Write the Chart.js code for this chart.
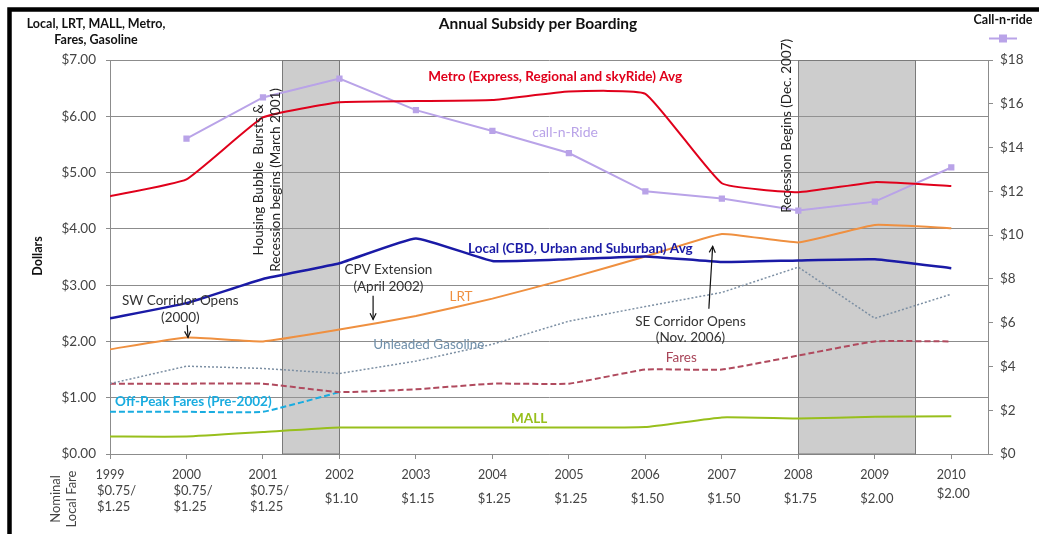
<!DOCTYPE html>
<html>
<head>
<meta charset="utf-8">
<script src="https://cdn.jsdelivr.net/npm/chart.js@4.4.0/dist/chart.umd.min.js"></script>
<style>
  html, body { margin: 0; padding: 0; background: #fff; }
  #wrap { width: 1039px; height: 534px; position: relative; }
</style>
</head>
<body>
<div id="wrap"><canvas id="c" width="1039" height="534"></canvas></div>
<script>
// Annual subsidy per boarding, 1999-2010 (dollars)
const years     = [1999, 2000, 2001, 2002, 2003, 2004, 2005, 2006, 2007, 2008, 2009, 2010];
const metro     = [4.58, 4.88, 5.98, 6.25, 6.27, 6.29, 6.44, 6.40, 4.81, 4.65, 4.83, 4.76];
const local     = [2.41, 2.68, 3.11, 3.39, 3.83, 3.43, 3.46, 3.51, 3.41, 3.44, 3.46, 3.30];
const lrt       = [1.86, 2.07, 2.00, 2.21, 2.45, 2.76, 3.12, 3.51, 3.91, 3.76, 4.07, 4.01];
const gasoline  = [1.25, 1.56, 1.52, 1.43, 1.65, 1.95, 2.36, 2.62, 2.87, 3.32, 2.41, 2.84];
const fares     = [1.25, 1.25, 1.25, 1.10, 1.15, 1.25, 1.25, 1.50, 1.50, 1.75, 2.00, 2.00];
const offPeak   = [0.75, 0.75, 0.75, 1.10, null, null, null, null, null, null, null, null];
const mall      = [0.31, 0.31, 0.39, 0.47, 0.47, 0.47, 0.47, 0.48, 0.65, 0.63, 0.66, 0.67];
// Call-n-Ride runs on the right-hand axis
const callNRide = [null, 14.41, 16.29, 17.15, 15.71, 14.76, 13.75, 12.00, 11.67, 11.12, 11.53, 13.09];

// Nominal local fare under each year
const fareLabels = [
  ['$0.75/', '$1.25'], ['$0.75/', '$1.25'], ['$0.75/', '$1.25'],
  ['$1.10'], ['$1.15'], ['$1.25'], ['$1.25'], ['$1.50'], ['$1.50'], ['$1.75'], ['$2.00'], ['$2.00']
];

// Recession periods shaded behind the lines (fractional years)
const recessions = [[2001.25, 2002.0], [2008.0, 2009.53]];

const FONT = 'Lato, "Open Sans", sans-serif';
const AXIS_GREY = '#8c8c8c';
const TEXT_GREY = '#444444';

Chart.defaults.font.family = FONT;

const pts = arr => years.map((yr, i) => ({ x: yr, y: arr[i] }));

function line(label, data, color, opts = {}) {
  return Object.assign({
    label, data: pts(data), borderColor: color, backgroundColor: color,
    borderWidth: 2, pointRadius: 0, tension: 0.12, yAxisID: 'y', spanGaps: false
  }, opts);
}

// Text annotations placed in data coordinates (year, left-axis dollars)
const notes = [
  { lines: ['Metro (Express, Regional and skyRide) Avg'], x: 2004.82, y: 6.70, color: '#e0001b', bold: true },
  { lines: ['call-n-Ride'], x: 2004.95, y: 5.72, color: '#b9a3e8', bold: false, size: 14 },
  { lines: ['Local (CBD, Urban and Suburban) Avg'], x: 2005.15, y: 3.64, color: '#1a1aa6', bold: true },
  { lines: ['LRT'], x: 2003.59, y: 2.80, color: '#ef9040', bold: false },
  { lines: ['Unleaded Gasoline'], x: 2003.17, y: 1.95, color: '#6f8faa', bold: false },
  { lines: ['Fares'], x: 2006.47, y: 1.72, color: '#a84458', bold: false },
  { lines: ['Off-Peak Fares (Pre-2002)'], x: 2000.09, y: 0.93, color: '#19ace0', bold: true },
  { lines: ['MALL'], x: 2004.48, y: 0.63, color: '#98bf1c', bold: true },
  { lines: ['SW Corridor Opens', '(2000)'], x: 1999.92, y: 2.57, color: '#333333', bold: false },
  { lines: ['CPV Extension', '(April 2002)'], x: 2002.64, y: 3.13, color: '#333333', bold: false },
  { lines: ['SE Corridor Opens', '(Nov. 2006)'], x: 2006.59, y: 2.21, color: '#333333', bold: false },
  { lines: ['Housing Bubble  Bursts &', 'Recession begins (March 2001)'], x: 2001.06, y: 4.87, color: '#222222', bold: false, rotate: true },
  { lines: ['Recession Begins (Dec. 2007)'], x: 2007.85, y: 5.83, color: '#222222', bold: false, rotate: true }
];

const arrows = [
  { from: [2000.01, 2.29], to: [2000.02, lrt[1]] },
  { from: [2002.44, 2.81], to: [2002.44, 2.39] },
  { from: [2006.83, 2.58], to: [2006.88, 3.69] }
];

function drawText(ctx, lines, cx, cy, o) {
  const size = o.size || 13.5;
  const lh = size * 1.25;
  ctx.save();
  ctx.font = (o.bold ? 'bold ' : '') + size + 'px ' + FONT;
  ctx.fillStyle = o.color;
  ctx.textAlign = o.align || 'center';
  ctx.textBaseline = 'middle';
  ctx.translate(cx, cy);
  if (o.rotate) ctx.rotate(-Math.PI / 2);
  const n = lines.length;
  lines.forEach((t, i) => {
    const off = (i - (n - 1) / 2) * lh;
    ctx.fillText(t, 0, off);
  });
  ctx.restore();
}

function drawArrow(ctx, x1, y1, x2, y2) {
  ctx.save();
  ctx.strokeStyle = '#111';
  ctx.lineWidth = 1.2;
  ctx.beginPath();
  ctx.moveTo(x1, y1);
  ctx.lineTo(x2, y2);
  ctx.stroke();
  const a = Math.atan2(y2 - y1, x2 - x1);
  const L = 7, w = 0.45;
  ctx.beginPath();
  ctx.moveTo(x2 - L * Math.cos(a - w), y2 - L * Math.sin(a - w));
  ctx.lineTo(x2, y2);
  ctx.lineTo(x2 - L * Math.cos(a + w), y2 - L * Math.sin(a + w));
  ctx.stroke();
  ctx.restore();
}

const recessionBands = {
  id: 'recessionBands',
  beforeDatasetsDraw(chart) {
    const { ctx, chartArea, scales } = chart;
    ctx.save();
    recessions.forEach(([a, b]) => {
      const x1 = Math.round(scales.x.getPixelForValue(a)) + 0.5;
      const x2 = Math.round(scales.x.getPixelForValue(b)) + 0.5;
      ctx.fillStyle = 'rgba(150,150,150,0.48)';
      ctx.fillRect(x1, chartArea.top, x2 - x1, chartArea.bottom - chartArea.top);
      ctx.strokeStyle = '#7a7a7a';
      ctx.lineWidth = 1;
      ctx.strokeRect(x1, chartArea.top + 0.5, x2 - x1, chartArea.bottom - chartArea.top - 0.5);
    });
    ctx.restore();
  }
};

const decorations = {
  id: 'decorations',
  afterDraw(chart) {
    const { ctx, scales } = chart;
    const X = v => scales.x.getPixelForValue(v);
    const Y = v => scales.y.getPixelForValue(v);

    // Frame
    ctx.save();
    ctx.strokeStyle = '#000';
    ctx.lineWidth = 4.5;
    ctx.strokeRect(9.5, 9.5, 1200, 1000);
    ctx.restore();

    // Title and axis titles
    drawText(ctx, ['Annual Subsidy per Boarding'], 538, 24, { bold: true, size: 15.5, color: '#111' });
    drawText(ctx, ['Local, LRT, MALL, Metro,', 'Fares, Gasoline'], 96, 32, { bold: true, size: 12.5, color: '#111' });
    drawText(ctx, ['Dollars'], 38, 256, { bold: true, size: 12.5, color: '#111', rotate: true });
    drawText(ctx, ['Call-n-ride'], 1003, 20, { bold: true, size: 12.5, color: '#111' });

    // Right-axis series key
    ctx.save();
    ctx.strokeStyle = '#b9a3e8';
    ctx.lineWidth = 2;
    ctx.beginPath(); ctx.moveTo(989, 38.5); ctx.lineTo(1017, 38.5); ctx.stroke();
    ctx.fillStyle = '#b9a3e8';
    ctx.fillRect(999, 34.5, 8, 8);
    ctx.restore();

    // Annotations and arrows
    notes.forEach(n => drawText(ctx, n.lines, X(n.x), Y(n.y), n));
    arrows.forEach(a => drawArrow(ctx, X(a.from[0]), Y(a.from[1]), X(a.to[0]), Y(a.to[1])));

    // Nominal local fare row
    drawText(ctx, ['Nominal', 'Local Fare'], 64, 499, { size: 13, color: TEXT_GREY, rotate: true });
    years.forEach((yr, i) => {
      const lbl = fareLabels[i];
      const cx = X(yr);
      if (lbl.length === 2) {
        drawText(ctx, lbl, cx - 13, 499, { size: 13, color: TEXT_GREY, align: 'left' });
      } else if (i === years.length - 1) {
        drawText(ctx, lbl, cx + 2, 494, { size: 13, color: TEXT_GREY });
      } else {
        drawText(ctx, lbl, cx + 2, 499, { size: 13, color: TEXT_GREY });
      }
    });
  }
};

new Chart(document.getElementById('c'), {
  type: 'line',
  data: {
    datasets: [
      line('Metro (Express, Regional and skyRide) Avg', metro, '#e0001b'),
      line('call-n-Ride', callNRide, '#b9a3e8', {
        yAxisID: 'y2', tension: 0, pointRadius: 3, pointStyle: 'rect',
        pointBackgroundColor: '#b9a3e8', pointBorderColor: '#b9a3e8'
      }),
      line('Local (CBD, Urban and Suburban) Avg', local, '#1a1aa6', { borderWidth: 2.5 }),
      line('LRT', lrt, '#ef9040'),
      line('Unleaded Gasoline', gasoline, '#7c8fa3', { borderWidth: 1.5, borderDash: [2, 2], tension: 0 }),
      line('Fares', fares, '#b04a5e', { borderDash: [6, 3] }),
      line('Off-Peak Fares (Pre-2002)', offPeak, '#19ace0', { borderDash: [6, 3] }),
      line('MALL', mall, '#98bf1c')
    ]
  },
  options: {
    responsive: false,
    animation: false,
    devicePixelRatio: 1,
    layout: { padding: { top: 60, bottom: 0, left: 0, right: 0 } },
    plugins: { legend: { display: false }, tooltip: { enabled: false }, title: { display: false } },
    scales: {
      x: {
        type: 'linear', min: 1999, max: 2010.48,
        afterBuildTicks: s => { s.ticks = years.map(v => ({ value: v })); },
        afterFit: s => { s.height = 80; },
        grid: { drawOnChartArea: false, drawTicks: true, tickLength: 5, color: AXIS_GREY },
        border: { display: true, color: AXIS_GREY },
        ticks: { font: { size: 12.5 }, color: TEXT_GREY, padding: 8, maxRotation: 0, autoSkip: false, callback: v => String(v) }
      },
      y: {
        position: 'left', min: 0, max: 7,
        afterFit: s => { s.width = 110; },
        grid: { color: AXIS_GREY, tickLength: 4 },
        border: { display: true, color: AXIS_GREY },
        ticks: { stepSize: 1, padding: 10, font: { size: 13.5 }, color: TEXT_GREY, callback: v => '$' + v.toFixed(2) }
      },
      y2: {
        position: 'right', min: 0, max: 18,
        afterFit: s => { s.width = 51; },
        grid: { drawOnChartArea: false, tickLength: 5, color: AXIS_GREY },
        border: { display: true, color: AXIS_GREY },
        ticks: { stepSize: 2, padding: 7, font: { size: 13.5 }, color: TEXT_GREY, callback: v => '$' + v }
      }
    }
  },
  plugins: [recessionBands, decorations]
});
</script>
</body>
</html>
